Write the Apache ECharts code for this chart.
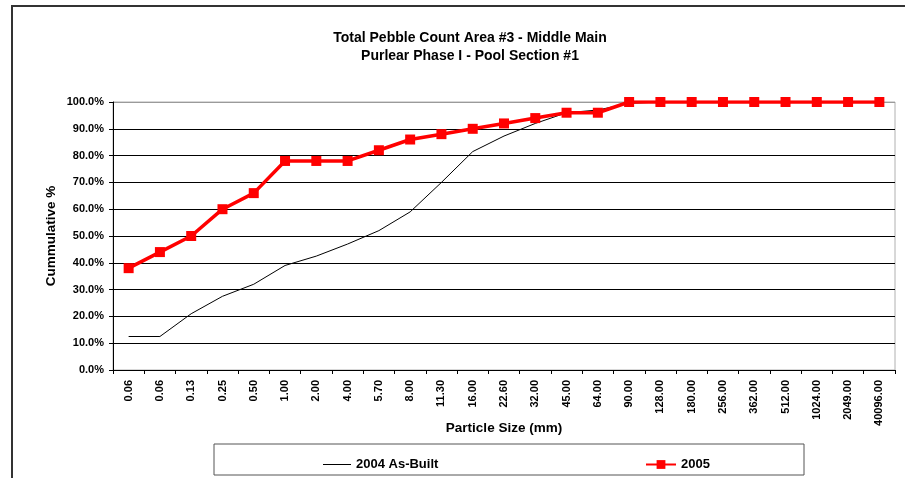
<!DOCTYPE html>
<html>
<head>
<meta charset="utf-8">
<script src="https://cdn.jsdelivr.net/npm/echarts@6/dist/echarts.min.js"></script>
<style>
  html, body { margin: 0; padding: 0; background: #fff; }
  #chart { width: 905px; height: 478px; }
</style>
</head>
<body>
<div id="chart"></div>
<script>
// particle sizes (mm) as printed under the axis
const sizes = ['0.06', '0.06', '0.13', '0.25', '0.50', '1.00', '2.00', '4.00', '5.70', '8.00',
  '11.30', '16.00', '22.60', '32.00', '45.00', '64.00', '90.00', '128.00', '180.00', '256.00',
  '362.00', '512.00', '1024.00', '2049.00', '40096.00']

// cumulative % per size
const asBuilt2004 = [12.5, 12.5, 21, 27.5, 32, 39, 42.5, 47, 52, 59,
  70, 81.5, 87.3, 92, 96, 97, 99.5, 100, 100, 100,
  100, 100, 100, 100, 100]
const count2005 = [38, 44, 50, 60, 66, 78, 78, 78, 82, 86,
  88, 90, 92, 94, 96, 96, 100, 100, 100, 100,
  100, 100, 100, 100, 100]

const yTicks = [0, 10, 20, 30, 40, 50, 60, 70, 80, 90, 100]

const font = 'Liberation Sans, Arial, sans-serif'
const chart = echarts.init(document.getElementById('chart'))

// gridlines are black, the top one is the grey plot border
const gridColors = yTicks.map(v => (v === 100 ? '#9a9a9a' : '#000'))

chart.setOption({
  animation: false,
  textStyle: { fontFamily: font },
  title: {
    text: 'Total Pebble Count Area #3 - Middle Main\nPurlear Phase I - Pool Section #1',
    left: 465,
    top: 24,
    textAlign: 'center',
    textStyle: { fontSize: 14, fontWeight: 'bold', color: '#000', lineHeight: 18, fontFamily: font }
  },
  grid: {
    left: 113, right: 10, top: 102, bottom: 108,
    show: true, borderColor: '#b0b0b0', borderWidth: 1
  },
  legend: [
    {
      data: [{ name: '2004 As-Built', icon: 'path://M0,0 L28,0 L28,1 L0,1 Z' }],
      left: 318, top: 453,
      itemWidth: 28, itemHeight: 1, itemGap: 4,
      textStyle: { fontSize: 13, fontWeight: 'bold', color: '#000', fontFamily: font }
    },
    {
      data: ['2005'],
      left: 640, top: 453,
      itemWidth: 30, itemHeight: 11, itemGap: 3,
      textStyle: { fontSize: 13, fontWeight: 'bold', color: '#000', fontFamily: font }
    }
  ],
  graphic: [
    // outer chart frame (top and left edges are visible)
    { type: 'polyline', shape: { points: [[12, 478], [12, 6], [905, 6]] },
      style: { stroke: '#333', lineWidth: 2, fill: null } },
    // legend box
    { type: 'rect', shape: { x: 214, y: 444, width: 590, height: 31 },
      style: { stroke: '#555', lineWidth: 1, fill: null }, z: -1 }
  ],
  xAxis: {
    type: 'category',
    data: sizes,
    boundaryGap: true,
    name: 'Particle Size (mm)',
    nameLocation: 'middle',
    nameGap: 58,
    nameMoveOverlap: false,
    nameTextStyle: { fontSize: 13.5, fontWeight: 'bold', color: '#000', verticalAlign: 'middle' },
    axisLine: { lineStyle: { color: '#000', width: 1 } },
    axisTick: { show: true, alignWithLabel: false, length: 4, inside: false, lineStyle: { color: '#000' } },
    axisLabel: {
      rotate: 90, interval: 0, fontSize: 11, fontWeight: 'bold', color: '#000', margin: 10,
      fontFamily: font
    },
    splitLine: { show: false }
  },
  yAxis: {
    type: 'value',
    min: 0, max: 100, interval: 10,
    name: 'Cummulative %',
    nameLocation: 'middle',
    nameGap: 62,
    nameRotate: 90,
    nameMoveOverlap: false,
    nameTextStyle: { fontSize: 13.5, fontWeight: 'bold', color: '#000', verticalAlign: 'middle' },
    axisLine: { show: true, lineStyle: { color: '#000', width: 1 } },
    axisTick: { show: true, length: 4, lineStyle: { color: '#000' } },
    axisLabel: {
      formatter: v => v.toFixed(1) + '%',
      fontSize: 11, fontWeight: 'bold', color: '#000', margin: 9, fontFamily: font
    },
    splitLine: { show: true, lineStyle: { color: gridColors, width: 1 } }
  },
  series: [
    {
      name: '2004 As-Built',
      type: 'line',
      data: asBuilt2004,
      symbol: 'none',
      lineStyle: { color: '#000', width: 1 },
      itemStyle: { color: '#000' },
      z: 2
    },
    {
      name: '2005',
      type: 'line',
      data: count2005,
      symbol: 'rect',
      symbolSize: 10,
      lineStyle: { color: '#ff0000', width: 3.5 },
      itemStyle: { color: '#ff0000' },
      z: 3
    }
  ]
})
</script>
</body>
</html>
